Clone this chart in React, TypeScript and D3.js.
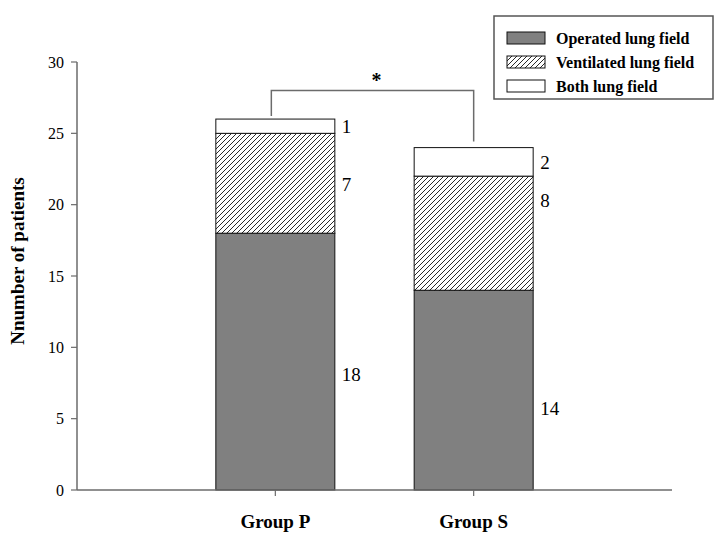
import React from 'react';
import * as d3 from 'd3';

// data
const groups = ['Group P', 'Group S'];
const operated = [18, 14];
const ventilated = [7, 8];
const both = [1, 2];
const seriesNames = ['Operated lung field', 'Ventilated lung field', 'Both lung field'];
const yTicks = [0, 5, 10, 15, 20, 25, 30];
// where the hand-placed value labels sit (in y units), per series, per group
const labelAt = [
  [8.1, 5.7],
  [21.4, 20.3],
  [25.5, 23.0],
];
const bracketTop = 28;
const signif = '*';

const W = 727;
const H = 544;
const margin = { left: 77, right: 55, top: 62, bottom: 54 };
const fontFam = '"Liberation Serif", "Times New Roman", serif';

export default function App() {
  const x = d3.scaleLinear().domain([0, 3]).range([margin.left, W - margin.right]);
  const y = d3.scaleLinear().domain([0, 30]).range([H - margin.bottom, margin.top]);
  const barW = x(0.6) - x(0);

  const stack = [operated, ventilated, both];
  const fills = ['#808080', 'url(#hatch)', '#ffffff'];
  const axisCol = '#6b6b6b';

  const totals = groups.map((_, i) => operated[i] + ventilated[i] + both[i]);

  return (
    <svg width={W} height={H} style={{ position: 'absolute', left: 0, top: 0, background: '#fff' }}
      fontFamily={fontFam}>
      <defs>
        <pattern id="hatch" patternUnits="userSpaceOnUse" width="5" height="5">
          <rect width="5" height="5" fill="#fff" />
          <path d="M-1,1 l2,-2 M0,5 l5,-5 M4,6 l2,-2" stroke="#111" strokeWidth="0.9" />
        </pattern>
      </defs>

      {/* bars */}
      {groups.map((g, gi) => {
        let base = 0;
        return (
          <g key={g}>
            {stack.map((s, si) => {
              const y0 = base;
              const y1 = base + s[gi];
              base = y1;
              return (
                <rect key={si} x={x(gi + 1) - barW / 2} y={y(y1)} width={barW}
                  height={y(y0) - y(y1)} fill={fills[si]} stroke="#111" strokeWidth={1} />
              );
            })}
            {stack.map((s, si) => (
              <text key={'l' + si} x={x(gi + 1) + barW / 2 + 7} y={y(labelAt[si][gi])}
                dy="0.35em" fontSize={19}>{s[gi]}</text>
            ))}
          </g>
        );
      })}

      {/* axes */}
      <line x1={x(0)} x2={x(3)} y1={y(0)} y2={y(0)} stroke={axisCol} strokeWidth={1.5} />
      <line x1={x(0)} x2={x(0)} y1={y(0)} y2={y(30)} stroke={axisCol} strokeWidth={1.5} />
      {yTicks.map(t => (
        <g key={t}>
          <line x1={x(0) - 6} x2={x(0)} y1={y(t)} y2={y(t)} stroke={axisCol} strokeWidth={1.2} />
          <text x={x(0) - 13} y={y(t)} dy="0.35em" textAnchor="end" fontSize={16}>{t}</text>
        </g>
      ))}
      {groups.map((g, gi) => (
        <g key={g}>
          <line x1={x(gi + 1)} x2={x(gi + 1)} y1={y(0)} y2={y(0) + 6} stroke={axisCol} strokeWidth={1.2} />
          <text x={x(gi + 1)} y={y(0) + 38} textAnchor="middle" fontSize={19} fontWeight="bold">{g}</text>
        </g>
      ))}
      <text transform={`translate(24,${(y(0) + y(30)) / 2 - 15}) rotate(-90)`} textAnchor="middle"
        fontSize={19} fontWeight="bold">Nnumber of patients</text>

      {/* significance bracket */}
      <path
        d={`M${x(1) - 4},${y(totals[0]) - 3} V${y(bracketTop)} H${x(2)} V${y(totals[1]) - 6}`}
        fill="none" stroke={axisCol} strokeWidth={1.5} />
      <text x={(x(1) + x(2)) / 2 + 2} y={y(bracketTop) - 4} textAnchor="middle" fontSize={20}
        fontWeight="bold">{signif}</text>

      {/* legend */}
      <g transform="translate(494,16)">
        <rect width={219} height={83} fill="#fff" stroke="#555" strokeWidth={1.5} />
        {seriesNames.map((n, i) => (
          <g key={n} transform={`translate(13,${16 + i * 24})`}>
            <rect width={38} height={12} fill={fills[i]} stroke="#111" strokeWidth={1} />
            <text x={49} y={6} dy="0.35em" fontSize={16} fontWeight="bold">{n}</text>
          </g>
        ))}
      </g>
    </svg>
  );
}
